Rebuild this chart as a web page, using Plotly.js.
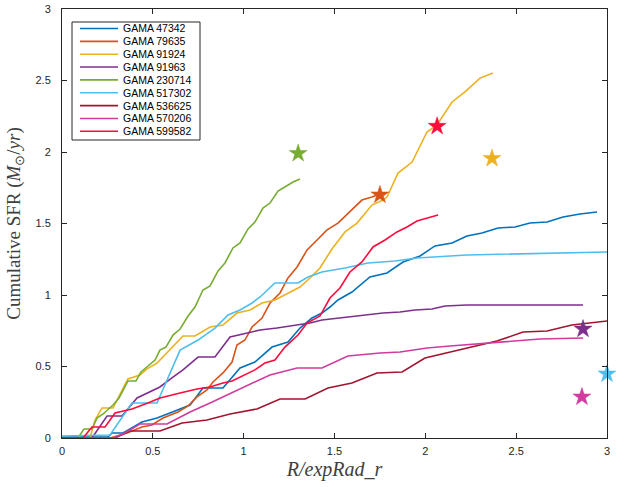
<!DOCTYPE html>
<html>
<head>
<meta charset="utf-8">
<script src="https://cdn.plot.ly/plotly-3.0.1.min.js"></script>
<style>
  html, body { margin: 0; padding: 0; background: #fff; }
  #chart { width: 625px; height: 487px; }
</style>
</head>
<body>
<div id="chart"></div>
<script>
// Cumulative star-formation rate profiles for nine GAMA galaxies
const seriesNames = ['GAMA 47342', 'GAMA 79635', 'GAMA 91924', 'GAMA 91963', 'GAMA 230714',
                     'GAMA 517302', 'GAMA 536625', 'GAMA 570206', 'GAMA 599582'];

const r47342 = [0, 0.253, 0.275, 0.336, 0.440, 0.523, 0.594, 0.639, 0.705, 0.776, 0.886, 0.980, 1.062, 1.156, 1.244, 1.310, 1.376, 1.431, 1.475, 1.519, 1.596, 1.695, 1.789, 1.877, 1.971, 2.053, 2.147, 2.229, 2.312, 2.400, 2.494, 2.576, 2.670, 2.758, 2.851, 2.945];
const s47342 = [0.007, 0.007, 0.035, 0.035, 0.112, 0.140, 0.175, 0.196, 0.231, 0.350, 0.350, 0.490, 0.531, 0.636, 0.671, 0.769, 0.839, 0.874, 0.916, 0.965, 1.021, 1.126, 1.154, 1.231, 1.273, 1.343, 1.364, 1.413, 1.434, 1.469, 1.476, 1.503, 1.510, 1.545, 1.566, 1.580];

const r79635 = [0, 0.264, 0.358, 0.440, 0.495, 0.556, 0.639, 0.694, 0.743, 0.798, 0.831, 0.886, 0.936, 0.963, 1.007, 1.046, 1.101, 1.145, 1.200, 1.244, 1.294, 1.349, 1.404, 1.459, 1.519, 1.585, 1.651, 1.706, 1.750];
const s79635 = [0, 0, 0.035, 0.077, 0.091, 0.140, 0.182, 0.224, 0.287, 0.336, 0.392, 0.455, 0.531, 0.650, 0.685, 0.776, 0.839, 0.944, 1.014, 1.119, 1.196, 1.315, 1.385, 1.455, 1.503, 1.580, 1.664, 1.685, 1.706];

const r91924 = [0, 0.154, 0.182, 0.220, 0.281, 0.319, 0.363, 0.429, 0.468, 0.523, 0.583, 0.666, 0.732, 0.815, 0.886, 0.963, 1.035, 1.101, 1.172, 1.244, 1.310, 1.365, 1.420, 1.486, 1.558, 1.624, 1.706, 1.767, 1.789, 1.850, 1.927, 2.009, 2.064, 2.147, 2.218, 2.301, 2.372];
const s91924 = [0, 0, 0.126, 0.210, 0.210, 0.300, 0.413, 0.441, 0.483, 0.524, 0.601, 0.713, 0.713, 0.776, 0.790, 0.874, 0.895, 0.944, 0.965, 1.014, 1.056, 1.119, 1.189, 1.322, 1.441, 1.503, 1.629, 1.664, 1.685, 1.853, 1.930, 2.140, 2.189, 2.350, 2.420, 2.517, 2.552];

const r91963 = [0, 0.165, 0.248, 0.330, 0.413, 0.484, 0.539, 0.605, 0.666, 0.749, 0.842, 0.925, 1.018, 1.090, 1.183, 1.294, 1.365, 1.431, 1.530, 1.602, 1.679, 1.767, 1.861, 1.943, 2.037, 2.108, 2.229, 2.868];
const s91963 = [0, 0, 0.154, 0.154, 0.280, 0.322, 0.357, 0.420, 0.476, 0.566, 0.566, 0.706, 0.734, 0.755, 0.769, 0.790, 0.804, 0.825, 0.839, 0.853, 0.860, 0.874, 0.881, 0.895, 0.902, 0.923, 0.930, 0.930];

const r230714 = [0, 0.088, 0.121, 0.165, 0.193, 0.226, 0.281, 0.314, 0.363, 0.407, 0.435, 0.473, 0.512, 0.539, 0.572, 0.611, 0.650, 0.694, 0.732, 0.776, 0.815, 0.859, 0.897, 0.941, 0.980, 1.024, 1.062, 1.106, 1.145, 1.189, 1.227, 1.272, 1.310];
const s230714 = [0, 0, 0.063, 0.063, 0.140, 0.168, 0.231, 0.280, 0.399, 0.399, 0.462, 0.503, 0.545, 0.615, 0.636, 0.720, 0.762, 0.853, 0.916, 1.035, 1.063, 1.168, 1.224, 1.329, 1.364, 1.462, 1.510, 1.608, 1.643, 1.727, 1.755, 1.790, 1.811];

const r517302 = [0, 0.264, 0.385, 0.523, 0.650, 0.749, 0.842, 0.914, 0.980, 1.046, 1.090, 1.172, 1.299, 1.354, 1.431, 1.558, 1.684, 1.833, 1.954, 2.136, 2.229, 3.0];
const s517302 = [0.014, 0.021, 0.245, 0.245, 0.615, 0.685, 0.769, 0.860, 0.895, 0.944, 0.986, 1.084, 1.084, 1.126, 1.161, 1.189, 1.224, 1.238, 1.259, 1.273, 1.280, 1.301];

const r536625 = [0, 0.292, 0.374, 0.539, 0.661, 0.798, 0.925, 1.073, 1.200, 1.338, 1.464, 1.596, 1.734, 1.872, 1.998, 2.119, 2.246, 2.394, 2.538, 2.670, 2.807, 3.0];
const s536625 = [0, 0, 0.049, 0.049, 0.105, 0.126, 0.168, 0.203, 0.273, 0.273, 0.350, 0.385, 0.455, 0.462, 0.559, 0.594, 0.636, 0.678, 0.741, 0.748, 0.790, 0.818];

const r570206 = [0, 0.281, 0.336, 0.429, 0.578, 0.705, 0.815, 0.936, 0.996, 1.145, 1.294, 1.431, 1.574, 1.750, 1.861, 2.009, 2.136, 2.356, 2.631, 2.868];
const s570206 = [0, 0, 0.028, 0.098, 0.098, 0.182, 0.245, 0.315, 0.350, 0.441, 0.490, 0.490, 0.573, 0.594, 0.601, 0.629, 0.643, 0.664, 0.692, 0.699];

const r599582 = [0, 0.116, 0.165, 0.237, 0.292, 0.385, 0.473, 0.539, 0.650, 0.743, 0.815, 0.886, 0.936, 0.996, 1.062, 1.117, 1.172, 1.227, 1.299, 1.349, 1.420, 1.475, 1.530, 1.585, 1.651, 1.712, 1.778, 1.844, 1.899, 1.954, 2.009, 2.070];
const s599582 = [0, 0, 0.077, 0.077, 0.175, 0.203, 0.245, 0.280, 0.315, 0.343, 0.357, 0.385, 0.399, 0.434, 0.476, 0.524, 0.545, 0.636, 0.720, 0.804, 0.853, 0.979, 1.049, 1.161, 1.231, 1.336, 1.385, 1.441, 1.476, 1.517, 1.538, 1.559];

// Total SFR for each galaxy, plotted as a star
const starGalaxy = ['GAMA 230714', 'GAMA 79635', 'GAMA 599582', 'GAMA 91924', 'GAMA 91963', 'GAMA 570206', 'GAMA 517302'];
const starR = [1.30, 1.75, 2.065, 2.367, 2.868, 2.862, 3.0];
const starSFR = [1.99, 1.70, 2.18, 1.955, 0.762, 0.287, 0.448];

const radii = [r47342, r79635, r91924, r91963, r230714, r517302, r536625, r570206, r599582];
const sfrs  = [s47342, s79635, s91924, s91963, s230714, s517302, s536625, s570206, s599582];

const palette = ['#0072BD', '#D95319', '#EDB120', '#7E2F8E', '#77AC30',
                 '#4DBEEE', '#A2142F', '#D13A9E', '#FF0A3C'];
const colourOf = {};
seriesNames.forEach((n, i) => { colourOf[n] = palette[i]; });

const traces = seriesNames.map((name, i) => ({
  type: 'scatter', mode: 'lines', name: name,
  x: radii[i], y: sfrs[i],
  line: { color: palette[i], width: 1.6 },
  showlegend: false, hoverinfo: 'x+y+name'
}));

traces.push({
  type: 'scatter', mode: 'markers',
  x: starR, y: starSFR, text: starGalaxy,
  marker: {
    symbol: 'star', size: 13.5,
    color: starGalaxy.map(g => colourOf[g]),
    line: { color: starGalaxy.map(g => colourOf[g]), width: 0.5 }
  },
  cliponaxis: false, showlegend: false, hoverinfo: 'x+y+text'
});

// Plot-area geometry (pixels) used to place the legend box
const M = { l: 62, r: 18, t: 9, b: 49 };
const PW = 625 - M.l - M.r, PH = 487 - M.t - M.b;
const px = v => (v - M.l) / PW;
const py = v => (PH + M.t - v) / PH;

const shapes = [{
  type: 'rect', xref: 'paper', yref: 'paper',
  x0: px(72), x1: px(200), y0: py(140), y1: py(22),
  line: { color: '#262626', width: 1 }, fillcolor: '#ffffff', layer: 'above'
}];
const annotations = [];
seriesNames.forEach((name, i) => {
  const yy = py(28.5 + i * 12.85);
  shapes.push({
    type: 'line', xref: 'paper', yref: 'paper',
    x0: px(80), x1: px(118), y0: yy, y1: yy,
    line: { color: palette[i], width: 1.6 }, layer: 'above'
  });
  annotations.push({
    xref: 'paper', yref: 'paper', x: px(121), y: yy,
    xanchor: 'left', yanchor: 'middle', showarrow: false,
    text: name, font: { family: 'Liberation Sans, Arial, sans-serif', size: 10.5, color: '#000' }
  });
});

const axisCommon = {
  range: [0, 3], showgrid: false, zeroline: false,
  showline: true, linecolor: '#262626', linewidth: 1, mirror: 'ticks',
  ticks: 'inside', ticklen: 5, tickcolor: '#262626', tickwidth: 1,
  tickfont: { family: 'Liberation Sans, Arial, sans-serif', size: 11, color: '#262626' }
};

const layout = {
  width: 625, height: 487,
  margin: M,
  paper_bgcolor: '#fff', plot_bgcolor: '#fff',
  showlegend: false,
  xaxis: Object.assign({}, axisCommon, {
    tickvals: [0, 0.5, 1, 1.5, 2, 2.5, 3],
    ticktext: ['0', '0.5', '1', '1.5', '2', '2.5', '3'],
    ticklabelstandoff: 3,
    title: { text: '<i>R/expRad_r</i>', standoff: 5,
             font: { family: 'Liberation Serif, Times New Roman, serif', size: 20, color: '#404040' } }
  }),
  yaxis: Object.assign({}, axisCommon, {
    tickvals: [0, 0.5, 1, 1.5, 2, 2.5, 3],
    ticktext: ['0', '0.5', '1', '1.5', '2', '2.5', '3'],
    ticklabelstandoff: 8,
    title: { text: 'Cumulative SFR (<i>M</i><sub>⊙</sub>/<i>yr</i>)', standoff: 9,
             font: { family: 'Liberation Serif, Times New Roman, serif', size: 19, color: '#404040' } }
  }),
  shapes: shapes,
  annotations: annotations
};

Plotly.newPlot('chart', traces, layout, { displayModeBar: false, staticPlot: true });
</script>
</body>
</html>
